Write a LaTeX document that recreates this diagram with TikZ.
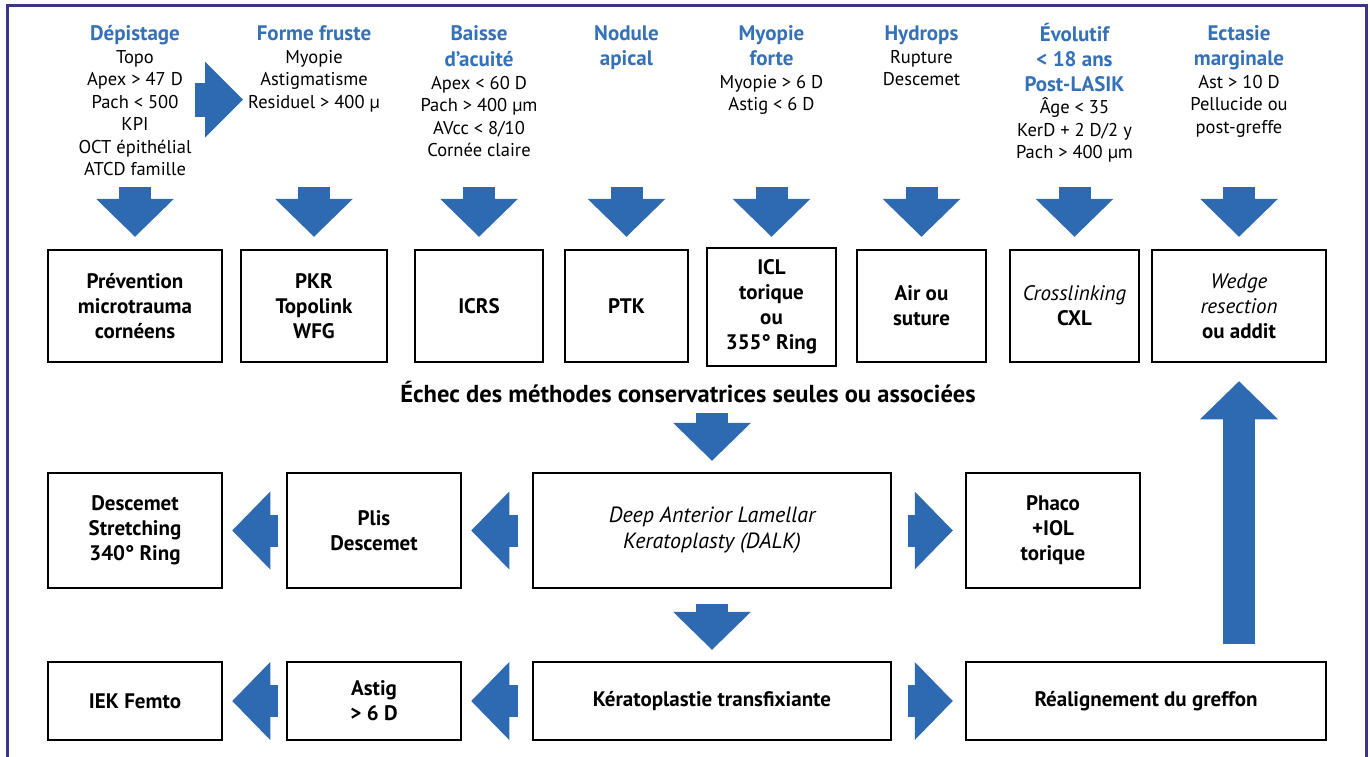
\documentclass[tikz,border=0pt]{standalone}
\usepackage{fontspec}
\setmainfont{PT Sans}
\usetikzlibrary{arrows.meta, positioning, calc}
\usepackage{xcolor}
\definecolor{FrameNavy}{HTML}{3B3587}
\definecolor{FlowBlue}{HTML}{2E6AB2}
\definecolor{HeadBlue}{HTML}{3471B9}
\newcommand{\hd}{\fontsize{21}{25}\selectfont\bfseries\color{HeadBlue}}
\tikzset{
    % Box styles - sharp corners
    stage/.style={
        rectangle,
        draw=black,
        line width=2.5pt,
        minimum height=112pt,
        inner sep=0pt,
        align=center,
        font=\fontsize{21}{25}\selectfont\bfseries
    },
    criteria/.style={
        anchor=north,
        inner sep=0pt,
        align=center,
        font=\fontsize{18.5}{22.5}\selectfont
    },
    % Block arrows
    bigarrow/.style={
        draw=FlowBlue,
        line width=32pt,
        -{Triangle[width=78pt, length=38pt, line width=0pt]}
    }
}

\begin{document}
\begin{tikzpicture}[x=1pt, y=-1pt]
    \useasboundingbox (0,0) rectangle (1370,756);
    \draw[FrameNavy, line width=3pt] (7,770) -- (7,5) -- (1366,5) -- (1366,770);

    % First line: conservative treatments
    \node[stage, minimum width=174pt] (prev) at (135,306) {Prévention\\microtrauma\\cornéens};
    \node[stage, minimum width=146pt] (pkr) at (314,306) {PKR\\Topolink\\WFG};
    \node[stage, minimum width=128pt] (icrs) at (479,306) {ICRS};
    \node[stage, minimum width=123pt] (ptk) at (626.5,306) {PTK};
    \node[stage, minimum width=129pt, minimum height=118pt] (icl) at (771.5,307) {ICL\\torique\\ou\\355° Ring};
    \node[stage, minimum width=129pt] (air) at (921.5,306) {Air ou\\suture};
    \node[stage, minimum width=129pt] (cxl) at (1074.5,306) {{\mdseries\itshape Crosslinking}\\CXL};
    \node[stage, minimum width=174pt] (wedge) at (1239,306) {{\mdseries\itshape Wedge}\\{\mdseries\itshape resection}\\ou addit};

    \node[criteria] (h1) at (prev |- 0,23) {{\hd\strut Dépistage}\\Topo\\Apex > 47 D\\Pach < 500\\KPI\\OCT épithélial\\ATCD famille};
    \node[criteria] (h2) at (pkr |- 0,23) {{\hd\strut Forme fruste}\\Myopie\\Astigmatisme\\Residuel > 400 µ};
    \node[criteria] (h3) at (icrs |- 0,23) {{\hd\strut Baisse}\\[2.5pt]{\hd d’acuité}\\Apex < 60 D\\Pach > 400 µm\\AVcc < 8/10\\Cornée claire};
    \node[criteria] (h4) at (ptk |- 0,23) {{\hd\strut Nodule}\\[2.5pt]{\hd apical}};
    \node[criteria] (h5) at (icl |- 0,23) {{\hd\strut Myopie}\\[2.5pt]{\hd forte}\\Myopie > 6 D\\Astig < 6 D};
    \node[criteria] (h6) at (air |- 0,23) {{\hd\strut Hydrops}\\Rupture\\Descemet};
    \node[criteria] (h7) at (cxl |- 0,23) {{\hd\strut Évolutif}\\[2.5pt]{\hd < 18 ans}\\[2.5pt]{\hd Post-LASIK}\\Âge < 35\\KerD + 2 D/2 y\\Pach > 400 µm};
    \node[criteria] (h8) at (wedge |- 0,23) {{\hd\strut Ectasie}\\[2.5pt]{\hd marginale}\\Ast > 10 D\\Pellucide ou\\post-greffe};

    \coordinate (go1) at (195,99.5);
    \coordinate (go2) at (243,99.5);
    \draw[bigarrow, line width=34pt, -{Triangle[width=76pt, length=38pt, line width=0pt]}] (go1) -- (go2);

    \foreach \b in {prev,pkr,icrs,ptk,air,cxl,wedge}
        \draw[bigarrow] ([yshift=62pt]\b.north) -- ([yshift=12pt]\b.north);
    \draw[bigarrow] ([yshift=60pt]icl.north) -- ([yshift=10pt]icl.north);

    \node[font=\fontsize{24.5}{28}\selectfont\bfseries] (echec) at (688,392) {Échec des méthodes conservatrices seules ou associées};

    % Second line: DALK
    \node[stage, minimum width=358pt, minimum height=115pt, font=\fontsize{22}{26}\selectfont\itshape] (dalk) at (712,530.5) {Deep Anterior Lamellar\\Keratoplasty (DALK)};
    \node[stage, minimum width=174pt, minimum height=115pt] (plis) at (374,530.5) {Plis\\Descemet};
    \node[stage, minimum width=174pt, minimum height=115pt] (stretch) at (135,530.5) {Descemet\\Stretching\\340° Ring};
    \node[stage, minimum width=174pt, minimum height=115pt] (phaco) at (1053,530.5) {Phaco\\+IOL\\torique};

    % Third line: penetrating keratoplasty
    \node[stage, minimum width=174pt, minimum height=78pt] (iek) at (135,701) {IEK Femto};
    \node[stage, minimum width=174pt, minimum height=78pt] (astig) at (374,701) {Astig\\> 6 D};
    \node[stage, minimum width=358pt, minimum height=78pt] (kpt) at (712,701) {Kératoplastie transfixiante};
    \node[stage, minimum width=360pt, minimum height=78pt] (realign) at (1146,701) {Réalignement du greffon};

    \draw[bigarrow] ([yshift=59pt]dalk.north) -- ([yshift=11pt]dalk.north);
    \draw[bigarrow] ([yshift=-15pt]dalk.south) -- ([yshift=11pt]kpt.north);

    \draw[bigarrow] ([xshift=-14pt]dalk.west) -- ([xshift=9pt]plis.east);
    \draw[bigarrow] ([xshift=-8pt]plis.west) -- ([xshift=9pt]stretch.east);
    \draw[bigarrow] ([xshift=16pt]dalk.east) -- ([xshift=-12pt]phaco.west);

    \draw[bigarrow] ([xshift=-14pt]kpt.west) -- ([xshift=9pt]astig.east);
    \draw[bigarrow] ([xshift=-8pt]astig.west) -- ([xshift=9pt]iek.east);
    \draw[bigarrow] ([xshift=16pt]kpt.east) -- ([xshift=-12pt]realign.west);

    \draw[bigarrow] ([yshift=17pt]realign.north -| wedge.south) -- ([yshift=-18pt]wedge.south);
\end{tikzpicture}
\end{document}
